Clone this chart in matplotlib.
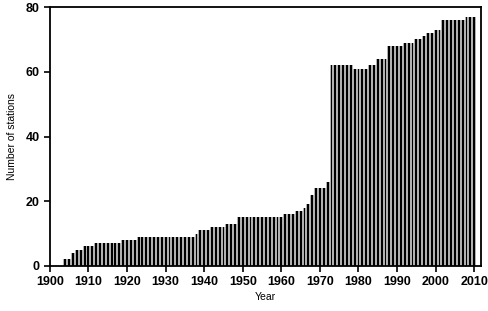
import matplotlib
matplotlib.use("Agg")
import matplotlib.pyplot as plt
import numpy as np

plt.rcParams['font.family'] = ['Liberation Sans', 'DejaVu Sans']

# stations per year
years = list(range(1904, 2011))
stations = [2, 2, 4, 5, 5, 6, 6, 6,            # 1904-1911
            7, 7, 7, 7, 7, 7, 7,               # 1912-1918
            8, 8, 8, 8,                        # 1919-1922
            9, 9, 9, 9, 9, 9, 9, 9, 9, 9, 9, 9, 9, 9, 9,   # 1923-1937
            10, 11, 11, 11,                    # 1938-1941
            12, 12, 12, 12, 13, 13, 13,        # 1942-1948
            15, 15, 15, 15, 15, 15, 15, 15, 15, 15, 15, 15,  # 1949-1960
            16, 16, 16, 17, 17, 18, 19, 22,    # 1961-1968
            24, 24, 24, 26,                    # 1969-1972
            62, 62, 62, 62, 62, 62,            # 1973-1978
            61, 61, 61, 61, 62, 62,            # 1979-1984
            64, 64, 64, 68, 68, 68, 68,        # 1985-1991
            69, 69, 69, 70, 70, 71, 72, 72,    # 1992-1999
            73, 73, 76, 76, 76, 76, 76, 76,    # 2000-2007
            77, 77, 77]                        # 2008-2010

xticks = list(range(1900, 2011, 10))
yticks = [0, 20, 40, 60, 80]

fig = plt.figure(figsize=(4.89, 3.11), dpi=100)
ax = fig.add_axes([0.102, 0.145, 0.882, 0.832])

# gray fill with black stripes, like the hatched-looking bars in the original
ax.bar(years, stations, width=1.0, color='#b0b0b0', linewidth=0)
ax.bar(years, stations, width=0.5, color='black', linewidth=0)

ax.set_xlim(1900, 2011.8)
ax.set_ylim(0, 80)
ax.set_xticks(xticks)
ax.set_yticks(yticks)
ax.tick_params(direction='out', length=4, width=1.2, labelsize=9)
for lab in ax.get_xticklabels() + ax.get_yticklabels():
    lab.set_fontweight('bold')
for s in ax.spines.values():
    s.set_linewidth(1.3)

ax.set_xlabel('Year', fontsize=7.5, labelpad=3)
ax.set_ylabel('Number of stations', fontsize=7.5, labelpad=6)

fig.savefig('out.png', dpi=100)
